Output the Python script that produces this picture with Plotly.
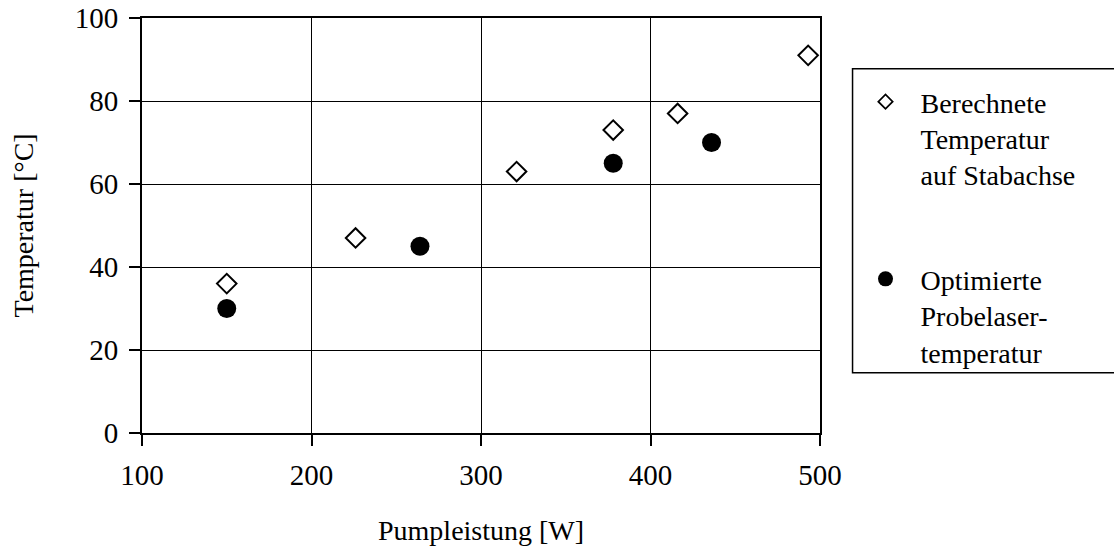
import plotly.graph_objects as go

# Pump power [W] and temperature [°C] for both series
power_calc = [150, 226, 321, 378, 416, 493]
temp_calc = [36, 47, 63, 73, 77, 91]

power_opt = [150, 264, 378, 436]
temp_opt = [30, 45, 65, 70]

x_ticks = [100, 200, 300, 400, 500]
y_ticks = [0, 20, 40, 60, 80, 100]

name_calc = "Berechnete<br>Temperatur<br>auf Stabachse"
name_opt = "Optimierte<br>Probelaser-<br>temperatur"
x_title = "Pumpleistung [W]"
y_title = "Temperatur [°C]"

FONT = "Liberation Serif"

fig = go.Figure()

fig.add_trace(go.Scatter(
    x=power_calc, y=temp_calc, mode="markers", showlegend=False,
    marker=dict(symbol="diamond-open", size=15, color="black",
                line=dict(color="black", width=2)),
))
fig.add_trace(go.Scatter(
    x=power_opt, y=temp_opt, mode="markers", showlegend=False,
    marker=dict(symbol="circle", size=19, color="black"),
))

# legend entries with smaller symbols
fig.add_trace(go.Scatter(
    x=[None], y=[None], mode="markers", name=name_calc, legendgroup="calc",
    marker=dict(symbol="diamond-open", size=11, color="black",
                line=dict(color="black", width=1.8)),
))
fig.add_trace(go.Scatter(
    x=[None], y=[None], mode="markers", name=name_opt, legendgroup="opt",
    marker=dict(symbol="circle", size=15, color="black"),
))

axis_common = dict(
    showline=True, linecolor="black", linewidth=2, mirror=True,
    showgrid=True, gridcolor="black", gridwidth=1,
    ticks="outside", ticklen=11, tickwidth=1.5, tickcolor="black",
    tickfont=dict(family=FONT, size=29, color="black"),
    zeroline=False, automargin=False,
)

fig.update_xaxes(range=[100, 500], tickvals=x_ticks, ticklabelstandoff=4, **axis_common)
fig.update_yaxes(range=[0, 100], tickvals=y_ticks, ticklabelstandoff=5, **axis_common)

# axis titles
fig.add_annotation(text=x_title, xref="paper", yref="paper", x=0.5, y=0,
                   yshift=-97, showarrow=False, xanchor="center", yanchor="middle",
                   font=dict(family=FONT, size=28, color="black"))
fig.add_annotation(text=y_title, xref="paper", yref="paper", x=0, y=0.5,
                   xshift=-119, textangle=-90, showarrow=False,
                   xanchor="center", yanchor="middle",
                   font=dict(family=FONT, size=28, color="black"))

# legend frame
fig.add_shape(type="rect", xref="paper", yref="paper",
              x0=1.048, x1=1.44, y0=0.1454, y1=0.8777,
              line=dict(color="black", width=1.5), fillcolor="rgba(0,0,0,0)")

fig.update_layout(
    width=1114, height=546,
    margin=dict(l=142, r=294, t=18, b=113, autoexpand=False),
    plot_bgcolor="white", paper_bgcolor="white",
    font=dict(family=FONT, color="black"),
    legend=dict(
        x=1.045, y=0.858, xanchor="left", yanchor="top",
        font=dict(family=FONT, size=28, color="black"),
        valign="top", itemwidth=60, tracegroupgap=65,
        bgcolor="rgba(0,0,0,0)", borderwidth=0,
    ),
)

fig.write_html("out.html")
